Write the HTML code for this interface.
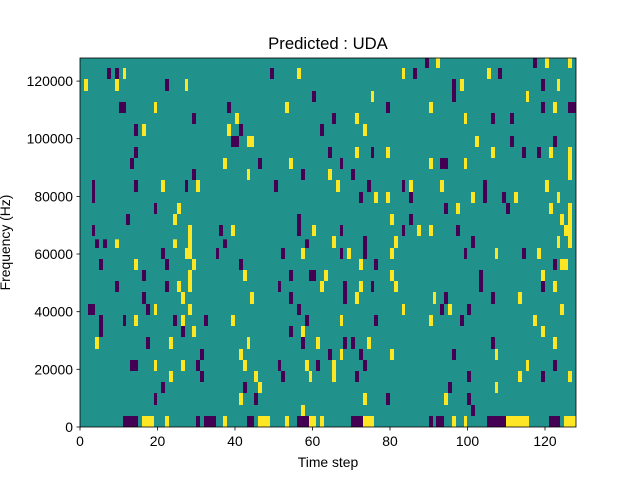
<!DOCTYPE html><html><head><style>body{margin:0;background:#fff}svg{display:block}.p{fill:#440154}.y{fill:#fde725}text{font-family:"Liberation Sans",sans-serif;font-size:13.9px;fill:#000}</style></head><body>
<svg width="640" height="480" xmlns="http://www.w3.org/2000/svg">
<rect x="80" y="58" width="496" height="369" fill="#21918c"/>
<g transform="translate(80,58) scale(0.333333)">
<rect class="p" x="81" y="30" width="12" height="33"/><rect class="p" x="105" y="30" width="12" height="33"/><rect class="y" x="129" y="30" width="9" height="33"/><rect class="p" x="570" y="30" width="12" height="33"/><rect class="y" x="651" y="30" width="12" height="33"/>
<rect class="y" x="12" y="63" width="12" height="36"/><rect class="y" x="105" y="63" width="12" height="36"/><rect class="p" x="255" y="63" width="12" height="36"/><rect class="y" x="315" y="63" width="9" height="36"/>
<rect class="p" x="696" y="99" width="12" height="33"/>
<rect class="p" x="117" y="132" width="21" height="33"/><rect class="y" x="222" y="132" width="9" height="33"/><rect class="p" x="441" y="132" width="12" height="33"/><rect class="y" x="615" y="132" width="12" height="33"/>
<rect class="p" x="336" y="165" width="12" height="33"/><rect class="y" x="465" y="165" width="12" height="33"/>
<rect class="p" x="162" y="198" width="12" height="36"/><rect class="y" x="186" y="198" width="12" height="36"/><rect class="y" x="441" y="198" width="12" height="36"/><rect class="p" x="477" y="198" width="12" height="36"/><rect class="p" x="720" y="198" width="12" height="36"/>
<rect class="p" x="453" y="234" width="24" height="33"/><rect class="y" x="501" y="234" width="21" height="33"/>
<rect class="p" x="162" y="267" width="12" height="33"/>
<rect class="p" x="150" y="300" width="12" height="33"/><rect class="y" x="429" y="300" width="12" height="33"/><rect class="p" x="534" y="300" width="12" height="33"/><rect class="y" x="627" y="300" width="12" height="33"/>
<rect class="p" x="336" y="333" width="12" height="33"/><rect class="y" x="501" y="333" width="9" height="33"/><rect class="p" x="663" y="333" width="12" height="33"/>
<rect class="p" x="36" y="366" width="9" height="69"/><rect class="p" x="162" y="366" width="12" height="36"/><rect class="y" x="243" y="366" width="12" height="36"/><rect class="p" x="315" y="366" width="9" height="36"/><rect class="y" x="348" y="366" width="12" height="36"/><rect class="p" x="582" y="366" width="12" height="36"/>
<rect class="p" x="222" y="435" width="9" height="33"/><rect class="y" x="291" y="435" width="12" height="33"/>
<rect class="p" x="138" y="468" width="12" height="33"/><rect class="y" x="279" y="468" width="12" height="33"/><rect class="p" x="651" y="468" width="12" height="66"/>
<rect class="p" x="36" y="501" width="9" height="33"/><rect class="y" x="324" y="501" width="12" height="54"/><rect class="p" x="417" y="501" width="12" height="33"/><rect class="y" x="453" y="501" width="12" height="33"/><rect class="y" x="696" y="501" width="12" height="33"/>
</g>
<g transform="translate(80,242) scale(0.333333)">
<rect class="p" x="45" y="-8" width="12" height="26"/><rect class="p" x="69" y="-8" width="12" height="26"/><rect class="y" x="105" y="-8" width="12" height="26"/><rect class="y" x="279" y="-8" width="12" height="26"/><rect class="y" x="324" y="-8" width="12" height="26"/><rect class="p" x="429" y="-8" width="12" height="26"/><rect class="p" x="675" y="-8" width="12" height="26"/>
<rect class="p" x="243" y="18" width="12" height="33"/><rect class="y" x="315" y="18" width="21" height="33"/><rect class="p" x="408" y="18" width="9" height="33"/><rect class="p" x="603" y="18" width="12" height="33"/><rect class="y" x="663" y="18" width="12" height="33"/>
<rect class="p" x="57" y="51" width="12" height="33"/><rect class="y" x="162" y="51" width="12" height="33"/><rect class="p" x="255" y="51" width="12" height="33"/><rect class="y" x="336" y="51" width="12" height="33"/><rect class="p" x="477" y="51" width="12" height="33"/>
<rect class="p" x="186" y="84" width="12" height="33"/><rect class="y" x="324" y="84" width="12" height="66"/><rect class="y" x="489" y="84" width="12" height="33"/><rect class="p" x="627" y="84" width="12" height="33"/><rect class="p" x="687" y="84" width="21" height="33"/><rect class="y" x="732" y="84" width="12" height="33"/>
<rect class="p" x="105" y="117" width="12" height="33"/><rect class="p" x="255" y="117" width="12" height="33"/><rect class="y" x="291" y="117" width="12" height="33"/><rect class="p" x="594" y="117" width="9" height="33"/><rect class="y" x="720" y="117" width="12" height="33"/>
<rect class="p" x="186" y="150" width="12" height="36"/><rect class="y" x="303" y="150" width="12" height="36"/><rect class="y" x="510" y="150" width="12" height="36"/><rect class="p" x="627" y="150" width="12" height="36"/>
<rect class="p" x="24" y="186" width="21" height="33"/><rect class="p" x="198" y="186" width="12" height="33"/><rect class="y" x="222" y="186" width="9" height="33"/><rect class="y" x="324" y="186" width="12" height="33"/><rect class="p" x="651" y="186" width="12" height="33"/>
<rect class="p" x="57" y="219" width="12" height="66"/><rect class="p" x="129" y="219" width="9" height="33"/><rect class="y" x="162" y="219" width="12" height="33"/><rect class="p" x="279" y="219" width="12" height="33"/><rect class="y" x="303" y="219" width="12" height="33"/><rect class="p" x="372" y="219" width="12" height="33"/><rect class="y" x="453" y="219" width="12" height="33"/><rect class="p" x="675" y="219" width="12" height="33"/>
<rect class="p" x="303" y="252" width="12" height="33"/><rect class="y" x="336" y="252" width="12" height="33"/><rect class="p" x="627" y="252" width="12" height="33"/><rect class="y" x="663" y="252" width="12" height="33"/>
<rect class="y" x="45" y="285" width="12" height="36"/><rect class="p" x="198" y="285" width="12" height="36"/><rect class="y" x="267" y="285" width="12" height="36"/><rect class="y" x="501" y="285" width="9" height="36"/><rect class="p" x="663" y="285" width="12" height="36"/><rect class="y" x="708" y="285" width="12" height="36"/>
<rect class="p" x="360" y="321" width="12" height="33"/><rect class="y" x="477" y="321" width="12" height="33"/>
<rect class="p" x="150" y="354" width="24" height="33"/><rect class="y" x="222" y="354" width="9" height="33"/><rect class="y" x="303" y="354" width="12" height="33"/><rect class="p" x="348" y="354" width="12" height="33"/><rect class="y" x="489" y="354" width="12" height="33"/><rect class="p" x="594" y="354" width="9" height="33"/><rect class="y" x="675" y="354" width="12" height="33"/><rect class="p" x="708" y="354" width="12" height="33"/>
<rect class="y" x="267" y="387" width="12" height="33"/><rect class="p" x="360" y="387" width="12" height="33"/><rect class="y" x="522" y="387" width="12" height="33"/><rect class="p" x="603" y="387" width="12" height="33"/><rect class="y" x="687" y="387" width="9" height="33"/>
<rect class="p" x="243" y="420" width="12" height="33"/><rect class="p" x="489" y="420" width="12" height="33"/><rect class="y" x="534" y="420" width="12" height="33"/>
<rect class="p" x="222" y="453" width="9" height="36"/><rect class="y" x="477" y="453" width="12" height="36"/><rect class="p" x="522" y="453" width="12" height="36"/>
<rect class="y" x="663" y="489" width="12" height="33"/>
<rect class="p" x="129" y="522" width="45" height="33"/><rect class="y" x="186" y="522" width="36" height="33"/><rect class="y" x="255" y="522" width="12" height="33"/><rect class="p" x="348" y="522" width="12" height="33"/><rect class="p" x="372" y="522" width="36" height="33"/><rect class="y" x="429" y="522" width="12" height="33"/><rect class="p" x="501" y="522" width="21" height="33"/><rect class="y" x="534" y="522" width="36" height="33"/><rect class="y" x="615" y="522" width="12" height="33"/><rect class="p" x="651" y="522" width="36" height="33"/><rect class="y" x="687" y="522" width="21" height="33"/><rect class="y" x="720" y="522" width="12" height="33"/>
</g>
<g transform="translate(328,58) scale(0.333333)">
<rect class="p" x="291" y="0" width="12" height="30"/><rect class="y" x="324" y="0" width="12" height="30"/><rect class="p" x="615" y="0" width="12" height="30"/><rect class="y" x="651" y="0" width="12" height="30"/><rect class="y" x="720" y="0" width="12" height="30"/>
<rect class="y" x="222" y="30" width="9" height="33"/><rect class="p" x="255" y="30" width="12" height="33"/><rect class="y" x="477" y="30" width="12" height="33"/><rect class="p" x="510" y="30" width="12" height="33"/>
<rect class="p" x="372" y="63" width="12" height="69"/><rect class="y" x="396" y="63" width="12" height="36"/><rect class="p" x="639" y="63" width="12" height="36"/><rect class="y" x="687" y="63" width="9" height="36"/>
<rect class="y" x="129" y="99" width="9" height="33"/><rect class="y" x="594" y="99" width="9" height="33"/>
<rect class="p" x="174" y="132" width="12" height="33"/><rect class="y" x="303" y="132" width="12" height="33"/><rect class="p" x="639" y="132" width="12" height="33"/><rect class="y" x="675" y="132" width="12" height="33"/><rect class="p" x="720" y="132" width="24" height="33"/>
<rect class="p" x="12" y="165" width="12" height="33"/><rect class="y" x="81" y="165" width="12" height="33"/><rect class="y" x="408" y="165" width="9" height="33"/><rect class="p" x="489" y="165" width="12" height="33"/><rect class="p" x="546" y="165" width="12" height="33"/>
<rect class="y" x="105" y="198" width="12" height="36"/>
<rect class="y" x="441" y="234" width="12" height="33"/><rect class="p" x="546" y="234" width="12" height="33"/><rect class="p" x="675" y="234" width="12" height="33"/>
<rect class="p" x="0" y="267" width="12" height="33"/><rect class="y" x="81" y="267" width="12" height="33"/><rect class="p" x="129" y="267" width="9" height="33"/><rect class="y" x="174" y="267" width="12" height="33"/><rect class="y" x="489" y="267" width="12" height="33"/><rect class="p" x="582" y="267" width="12" height="33"/><rect class="p" x="627" y="267" width="12" height="33"/><rect class="y" x="663" y="267" width="12" height="33"/><rect class="y" x="720" y="267" width="12" height="99"/>
<rect class="p" x="36" y="300" width="9" height="33"/><rect class="y" x="303" y="300" width="12" height="33"/><rect class="p" x="336" y="300" width="24" height="33"/><rect class="y" x="408" y="300" width="9" height="33"/>
<rect class="y" x="0" y="333" width="12" height="33"/><rect class="p" x="69" y="333" width="12" height="33"/>
<rect class="y" x="24" y="366" width="12" height="36"/><rect class="p" x="117" y="366" width="12" height="36"/><rect class="p" x="222" y="366" width="9" height="36"/><rect class="y" x="243" y="366" width="12" height="36"/><rect class="y" x="336" y="366" width="12" height="36"/><rect class="p" x="465" y="366" width="12" height="69"/><rect class="y" x="651" y="366" width="12" height="36"/>
<rect class="p" x="93" y="402" width="12" height="33"/><rect class="y" x="138" y="402" width="12" height="33"/><rect class="y" x="174" y="402" width="12" height="33"/><rect class="p" x="243" y="402" width="12" height="33"/><rect class="y" x="429" y="402" width="12" height="33"/><rect class="p" x="522" y="402" width="12" height="33"/><rect class="y" x="558" y="402" width="12" height="33"/><rect class="y" x="687" y="402" width="9" height="33"/>
<rect class="p" x="348" y="435" width="12" height="33"/><rect class="y" x="384" y="435" width="12" height="33"/><rect class="p" x="534" y="435" width="12" height="33"/><rect class="y" x="663" y="435" width="12" height="33"/><rect class="y" x="720" y="435" width="12" height="120"/>
<rect class="y" x="186" y="468" width="12" height="33"/><rect class="p" x="243" y="468" width="12" height="33"/><rect class="y" x="696" y="468" width="12" height="33"/>
<rect class="p" x="36" y="501" width="9" height="33"/><rect class="p" x="222" y="501" width="9" height="33"/><rect class="y" x="267" y="501" width="12" height="33"/><rect class="y" x="303" y="501" width="12" height="33"/><rect class="p" x="384" y="501" width="12" height="33"/><rect class="y" x="708" y="501" width="24" height="33"/>
<rect class="y" x="12" y="534" width="12" height="21"/><rect class="p" x="105" y="534" width="12" height="21"/><rect class="y" x="198" y="534" width="12" height="21"/><rect class="p" x="429" y="534" width="12" height="21"/><rect class="y" x="687" y="534" width="9" height="21"/>
</g>
<g transform="translate(328,242) scale(0.333333)">
<rect class="y" x="12" y="0" width="12" height="18"/><rect class="p" x="105" y="0" width="12" height="18"/><rect class="y" x="198" y="0" width="12" height="18"/><rect class="p" x="429" y="0" width="12" height="18"/><rect class="y" x="687" y="0" width="9" height="18"/><rect class="y" x="720" y="0" width="12" height="18"/>
<rect class="p" x="36" y="18" width="9" height="33"/><rect class="y" x="57" y="18" width="12" height="33"/><rect class="p" x="105" y="18" width="12" height="33"/><rect class="y" x="186" y="18" width="12" height="33"/><rect class="p" x="408" y="18" width="9" height="33"/><rect class="y" x="501" y="18" width="9" height="33"/><rect class="p" x="582" y="18" width="12" height="33"/><rect class="y" x="627" y="18" width="12" height="33"/>
<rect class="y" x="93" y="51" width="12" height="33"/><rect class="p" x="138" y="51" width="12" height="33"/><rect class="p" x="675" y="51" width="12" height="33"/><rect class="y" x="696" y="51" width="24" height="33"/>
<rect class="y" x="186" y="84" width="12" height="33"/><rect class="p" x="453" y="84" width="12" height="66"/><rect class="y" x="639" y="84" width="12" height="33"/>
<rect class="p" x="45" y="117" width="12" height="69"/><rect class="y" x="93" y="117" width="12" height="33"/><rect class="p" x="129" y="117" width="9" height="33"/><rect class="y" x="198" y="117" width="12" height="33"/><rect class="p" x="639" y="117" width="12" height="33"/><rect class="y" x="675" y="117" width="12" height="33"/>
<rect class="y" x="81" y="150" width="12" height="36"/><rect class="y" x="315" y="150" width="9" height="36"/><rect class="p" x="348" y="150" width="12" height="36"/><rect class="p" x="489" y="150" width="12" height="36"/><rect class="y" x="570" y="150" width="12" height="36"/>
<rect class="y" x="222" y="186" width="9" height="33"/><rect class="p" x="336" y="186" width="12" height="33"/><rect class="y" x="360" y="186" width="12" height="33"/><rect class="p" x="417" y="186" width="12" height="33"/><rect class="y" x="696" y="186" width="12" height="33"/>
<rect class="y" x="36" y="219" width="9" height="33"/><rect class="p" x="138" y="219" width="12" height="33"/><rect class="y" x="303" y="219" width="12" height="33"/><rect class="p" x="396" y="219" width="12" height="33"/><rect class="y" x="615" y="219" width="12" height="33"/>
<rect class="y" x="639" y="252" width="12" height="33"/>
<rect class="p" x="45" y="285" width="12" height="36"/><rect class="p" x="69" y="285" width="12" height="36"/><rect class="y" x="117" y="285" width="12" height="36"/><rect class="p" x="489" y="285" width="12" height="36"/><rect class="y" x="675" y="285" width="12" height="36"/>
<rect class="p" x="0" y="321" width="12" height="33"/><rect class="y" x="36" y="321" width="9" height="33"/><rect class="p" x="93" y="321" width="12" height="33"/><rect class="y" x="186" y="321" width="12" height="33"/><rect class="p" x="372" y="321" width="12" height="33"/><rect class="y" x="501" y="321" width="9" height="33"/>
<rect class="y" x="12" y="354" width="12" height="66"/><rect class="p" x="105" y="354" width="12" height="33"/><rect class="y" x="594" y="354" width="9" height="33"/><rect class="p" x="675" y="354" width="12" height="33"/>
<rect class="p" x="81" y="387" width="12" height="33"/><rect class="p" x="417" y="387" width="12" height="33"/><rect class="y" x="570" y="387" width="12" height="33"/><rect class="p" x="639" y="387" width="12" height="33"/><rect class="y" x="720" y="387" width="12" height="33"/>
<rect class="p" x="360" y="420" width="12" height="33"/><rect class="y" x="501" y="420" width="9" height="33"/>
<rect class="y" x="105" y="453" width="12" height="36"/><rect class="p" x="174" y="453" width="12" height="36"/><rect class="y" x="348" y="453" width="12" height="36"/><rect class="p" x="417" y="453" width="12" height="36"/>
<rect class="p" x="429" y="489" width="12" height="33"/>
<rect class="p" x="69" y="522" width="36" height="33"/><rect class="y" x="105" y="522" width="33" height="33"/><rect class="p" x="303" y="522" width="12" height="33"/><rect class="p" x="324" y="522" width="24" height="33"/><rect class="y" x="372" y="522" width="12" height="33"/><rect class="y" x="408" y="522" width="9" height="33"/><rect class="p" x="477" y="522" width="57" height="33"/><rect class="y" x="534" y="522" width="69" height="33"/><rect class="p" x="663" y="522" width="33" height="33"/><rect class="y" x="708" y="522" width="36" height="33"/>
</g>
<rect x="80" y="58" width="496" height="369" fill="none" stroke="#000" stroke-width="0.8"/>
<g stroke="#000" stroke-width="0.8">
<line x1="80" y1="427" x2="80" y2="430.5"/><line x1="157.5" y1="427" x2="157.5" y2="430.5"/><line x1="235" y1="427" x2="235" y2="430.5"/><line x1="312.5" y1="427" x2="312.5" y2="430.5"/><line x1="390" y1="427" x2="390" y2="430.5"/><line x1="467.5" y1="427" x2="467.5" y2="430.5"/><line x1="545" y1="427" x2="545" y2="430.5"/>
<line x1="76.5" y1="427" x2="80" y2="427"/><line x1="76.5" y1="369.3" x2="80" y2="369.3"/><line x1="76.5" y1="311.7" x2="80" y2="311.7"/><line x1="76.5" y1="254" x2="80" y2="254"/><line x1="76.5" y1="196.4" x2="80" y2="196.4"/><line x1="76.5" y1="138.7" x2="80" y2="138.7"/><line x1="76.5" y1="81.1" x2="80" y2="81.1"/>
</g>
<g text-anchor="middle">
<text x="80" y="446">0</text><text x="157.5" y="446">20</text><text x="235" y="446">40</text><text x="312.5" y="446">60</text><text x="390" y="446">80</text><text x="467.5" y="446">100</text><text x="545" y="446">120</text>
</g>
<g text-anchor="end">
<text x="73" y="432">0</text><text x="73" y="374.3">20000</text><text x="73" y="316.7">40000</text><text x="73" y="259">60000</text><text x="73" y="201.4">80000</text><text x="73" y="143.7">100000</text><text x="73" y="86.1">120000</text>
</g>
<text x="328" y="467" text-anchor="middle">Time step</text>
<text x="0" y="0" text-anchor="middle" transform="translate(10,242.5) rotate(-90)">Frequency (Hz)</text>
<text x="328" y="49" text-anchor="middle" style="font-size:16.7px">Predicted : UDA</text>
</svg></body></html>
